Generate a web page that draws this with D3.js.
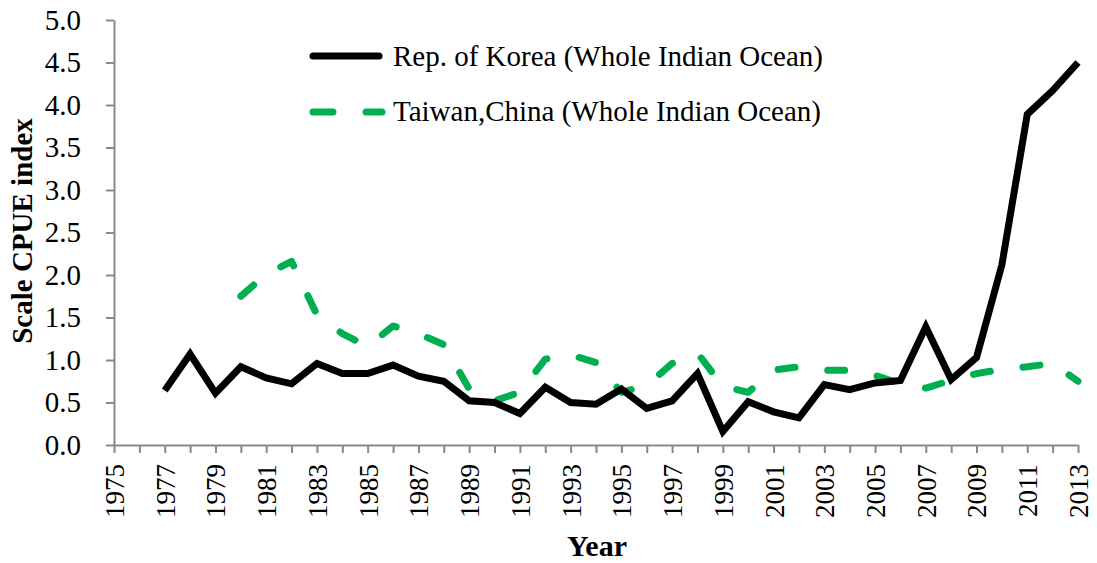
<!DOCTYPE html>
<html>
<head>
<meta charset="utf-8">
<script src="https://cdn.jsdelivr.net/npm/d3@7"></script>
<style>
  body { margin: 0; background: #fff; }
  svg { font-family: "Liberation Serif", "Times New Roman", serif; }
</style>
</head>
<body>
<div id="chart"></div>
<script>
"use strict";

// years covered by each series
var koreaYears = [1977, 1978, 1979, 1980, 1981, 1982, 1983, 1984, 1985, 1986, 1987, 1988, 1989,
    1990, 1991, 1992, 1993, 1994, 1995, 1996, 1997, 1998, 1999, 2000, 2001, 2002, 2003, 2004,
    2005, 2006, 2007, 2008, 2009, 2010, 2011, 2012, 2013];
var koreaCpue = [0.64, 1.07, 0.61, 0.92, 0.79, 0.72, 0.96, 0.84, 0.84, 0.94, 0.81, 0.75, 0.52,
    0.50, 0.37, 0.68, 0.50, 0.48, 0.66, 0.43, 0.52, 0.84, 0.16, 0.51, 0.39, 0.32, 0.71, 0.65,
    0.73, 0.76, 1.39, 0.77, 1.03, 2.12, 3.89, 4.17, 4.50];

var taiwanYears = [1980, 1981, 1982, 1983, 1984, 1985, 1986, 1987, 1988, 1989, 1990, 1991,
    1992, 1993, 1994, 1995, 1996, 1997, 1998, 1999, 2000, 2001, 2002, 2003, 2004, 2005, 2006,
    2007, 2008, 2009, 2010, 2011, 2012, 2013];
var taiwanCpue = [1.75, 2.01, 2.16, 1.53, 1.31, 1.16, 1.40, 1.31, 1.18, 0.66, 0.52, 0.62,
    1.01, 1.06, 0.97, 0.62, 0.70, 0.96, 1.08, 0.69, 0.62, 0.88, 0.92, 0.88, 0.88, 0.82, 0.72,
    0.67, 0.76, 0.84, 0.89, 0.92, 0.96, 0.75];

var yTicks = [0, 0.5, 1, 1.5, 2, 2.5, 3, 3.5, 4, 4.5, 5];
var xTicks = d3.range(1975, 2014);
var xLabels = [1975, 1977, 1979, 1981, 1983, 1985, 1987, 1989, 1991, 1993, 1995, 1997, 1999,
    2001, 2003, 2005, 2007, 2009, 2011, 2013];

var seriesNames = ["Rep. of Korea (Whole Indian Ocean)", "Taiwan,China (Whole Indian Ocean)"];

var width = 1097, height = 563;
var axisColor = "#898989";
var serif = "'Liberation Serif', 'Times New Roman', serif";

var svg = d3.select("#chart").append("svg")
    .attr("width", width)
    .attr("height", height);

var x = d3.scaleLinear().domain([1975, 2013]).range([114, 1078]);
var y = d3.scaleLinear().domain([0, 5]).range([445, 20]);

//----- y axis
var yAxis = svg.append("g")
    .attr("transform", "translate(114,0)")
    .call(d3.axisLeft(y).tickValues(yTicks).tickFormat(d3.format(".1f"))
        .tickSize(8).tickSizeOuter(0).tickPadding(25));
yAxis.selectAll("path, line").attr("stroke", axisColor).attr("stroke-width", 2);
yAxis.selectAll("text").attr("font-size", 29).attr("fill", "#000")
    .attr("font-family", serif);

//----- x axis (tick every year, label every other year)
var xAxis = svg.append("g")
    .attr("transform", "translate(0,445)")
    .call(d3.axisBottom(x).tickValues(xTicks).tickSize(8).tickSizeOuter(0)
        .tickFormat(function (d) { return xLabels.indexOf(d) >= 0 ? d : ""; }));
xAxis.selectAll("path, line").attr("stroke", axisColor).attr("stroke-width", 2);
xAxis.selectAll("text")
    .attr("font-size", 27).attr("fill", "#000")
    .attr("font-family", serif)
    .attr("text-anchor", "end")
    .attr("dy", "0.35em")
    .attr("transform", "translate(0,19) rotate(-90)")
    .attr("x", 0).attr("y", 0);

//----- axis titles
svg.append("text")
    .attr("transform", "translate(32,231) rotate(-90)")
    .attr("text-anchor", "middle")
    .attr("font-size", 29).attr("font-weight", "bold")
    .text("Scale CPUE index");

svg.append("text")
    .attr("x", 597).attr("y", 556)
    .attr("text-anchor", "middle")
    .attr("font-size", 30).attr("font-weight", "bold")
    .text("Year");

//----- lines
var line = d3.line()
    .x(function (d) { return x(d[0]); })
    .y(function (d) { return y(d[1]); });

svg.append("path")
    .datum(d3.zip(taiwanYears, taiwanCpue))
    .attr("d", line)
    .attr("fill", "none")
    .attr("stroke", "#00b050")
    .attr("stroke-width", 7)
    .attr("stroke-linecap", "round")
    .attr("stroke-linejoin", "round")
    .attr("stroke-dasharray", "17,33");

svg.append("path")
    .datum(d3.zip(koreaYears, koreaCpue))
    .attr("d", line)
    .attr("fill", "none")
    .attr("stroke", "#000")
    .attr("stroke-width", 7)
    .attr("stroke-linejoin", "miter");

//----- legend
var legend = svg.append("g");
legend.append("line")
    .attr("x1", 313).attr("x2", 379).attr("y1", 56).attr("y2", 56)
    .attr("stroke", "#000").attr("stroke-width", 7).attr("stroke-linecap", "round");
legend.append("line")
    .attr("x1", 313).attr("x2", 382).attr("y1", 112).attr("y2", 112)
    .attr("stroke", "#00b050").attr("stroke-width", 7).attr("stroke-linecap", "round")
    .attr("stroke-dasharray", "20,33");
legend.selectAll("text.lbl")
    .data(seriesNames)
    .enter().append("text")
    .attr("class", "lbl")
    .attr("x", 393)
    .attr("y", function (d, i) { return 66 + i * 55; })
    .attr("font-size", 29)
    .text(function (d) { return d; });
</script>
</body>
</html>
